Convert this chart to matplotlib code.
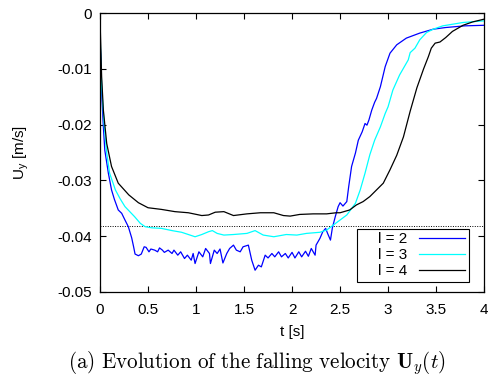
import numpy as np
import matplotlib
matplotlib.use("Agg")
import matplotlib.pyplot as plt

plt.rcParams['font.family'] = ['Liberation Sans', 'DejaVu Sans']
plt.rcParams['font.size'] = 11

# l = 2 (blue)
t2 = [0, 0.01, 0.017, 0.035, 0.05, 0.087, 0.12, 0.15, 0.19, 0.226, 0.26, 0.295, 0.33, 0.35, 0.365,
      0.4, 0.43, 0.46, 0.48, 0.51, 0.53, 0.57, 0.6, 0.62, 0.65, 0.67, 0.71, 0.75, 0.77, 0.81, 0.84,
      0.88, 0.91, 0.95, 0.97, 0.99, 1.03, 1.07, 1.1, 1.14, 1.15, 1.19, 1.22, 1.25, 1.28, 1.32, 1.35,
      1.39, 1.42, 1.46, 1.49, 1.545, 1.58, 1.615, 1.65, 1.68, 1.72, 1.75, 1.79, 1.82, 1.86, 1.89,
      1.93, 1.96, 2.0, 2.03, 2.07, 2.1, 2.14, 2.17, 2.2, 2.24, 2.25, 2.29, 2.32, 2.35, 2.37, 2.4,
      2.42, 2.45, 2.48, 2.5, 2.53, 2.57, 2.59, 2.62, 2.66, 2.69, 2.73, 2.76, 2.78, 2.8, 2.83, 2.86,
      2.88, 2.92, 2.97, 3.02, 3.09, 3.19, 3.33, 3.47, 3.6, 3.8, 4.0]
u2 = [-0.005, -0.0084, -0.0143, -0.0204, -0.0246, -0.0287, -0.0317, -0.0334, -0.0353, -0.0359,
      -0.0371, -0.0383, -0.0403, -0.0419, -0.0432, -0.0435, -0.0432, -0.0419, -0.042, -0.0428,
      -0.0423, -0.0425, -0.0428, -0.0421, -0.0425, -0.0429, -0.0425, -0.0431, -0.0425, -0.0434,
      -0.0428, -0.044, -0.0434, -0.0443, -0.0431, -0.0449, -0.0428, -0.0437, -0.0422, -0.0431,
      -0.0449, -0.0425, -0.0431, -0.0423, -0.0448, -0.0431, -0.0422, -0.0416, -0.0425, -0.0428,
      -0.0419, -0.0416, -0.0443, -0.0461, -0.0452, -0.0455, -0.0434, -0.0439, -0.0431, -0.0437,
      -0.0428, -0.0437, -0.0431, -0.0439, -0.0429, -0.0439, -0.0428, -0.0437, -0.0427, -0.0436,
      -0.0422, -0.0434, -0.0416, -0.0404, -0.0392, -0.0386, -0.0395, -0.0407, -0.0385, -0.0365,
      -0.0347, -0.034, -0.0346, -0.0338, -0.0311, -0.0275, -0.0251, -0.0228, -0.0213, -0.0198,
      -0.0201, -0.0192, -0.0174, -0.016, -0.0153, -0.0132, -0.0096, -0.0072, -0.0057, -0.0045,
      -0.0036, -0.0029, -0.0026, -0.0023, -0.0022]

# l = 3 (cyan)
t3 = [0, 0.017, 0.045, 0.07, 0.1, 0.16, 0.21, 0.26, 0.31, 0.36, 0.42, 0.47, 0.54, 0.64, 0.75,
      0.85, 0.92, 0.99, 1.06, 1.13, 1.17, 1.22, 1.29, 1.39, 1.53, 1.615, 1.7, 1.81, 1.94, 2.05,
      2.15, 2.29, 2.36, 2.43, 2.5, 2.57, 2.66, 2.71, 2.76, 2.81, 2.86, 2.92, 2.97, 3.0, 3.05,
      3.12, 3.21, 3.23, 3.28, 3.33, 3.4, 3.47, 3.57, 3.78, 4.0]
u3 = [-0.003, -0.0132, -0.0204, -0.0251, -0.0287, -0.0317, -0.0333, -0.0347, -0.0356, -0.0365,
      -0.0377, -0.0383, -0.0385, -0.0386, -0.039, -0.0393, -0.0397, -0.0401, -0.0397, -0.0392,
      -0.039, -0.0395, -0.0398, -0.0397, -0.0395, -0.039, -0.0398, -0.0401, -0.0397, -0.0398,
      -0.0395, -0.0393, -0.0389, -0.038, -0.0371, -0.0362, -0.0341, -0.0317, -0.0287, -0.0254,
      -0.0228, -0.0204, -0.018, -0.0168, -0.0138, -0.0111, -0.0084, -0.0071, -0.0063, -0.0048,
      -0.0035, -0.0029, -0.0023, -0.0017, -0.0014]

# l = 4 (black)
t4 = [0, 0.017, 0.035, 0.07, 0.12, 0.19, 0.3, 0.4, 0.5, 0.64, 0.78, 0.92, 1.06, 1.13, 1.2, 1.29,
      1.39, 1.53, 1.67, 1.81, 1.91, 1.98, 2.08, 2.22, 2.36, 2.46, 2.5, 2.6, 2.67, 2.74, 2.81, 2.88,
      2.95, 3.02, 3.09, 3.16, 3.23, 3.3, 3.37, 3.42, 3.45, 3.49, 3.54, 3.6, 3.67, 3.78, 3.88, 4.0]
u4 = [-0.001, -0.0114, -0.0174, -0.0234, -0.0275, -0.0305, -0.0326, -0.034, -0.0349, -0.0352,
      -0.0356, -0.0358, -0.0363, -0.0362, -0.0357, -0.0356, -0.0363, -0.036, -0.0358, -0.0358,
      -0.0363, -0.0364, -0.0361, -0.036, -0.036, -0.0358, -0.0358, -0.0353, -0.0344, -0.0338,
      -0.0329, -0.0317, -0.0305, -0.0281, -0.0255, -0.0222, -0.0176, -0.0134, -0.0100, -0.0078,
      -0.0063, -0.0054, -0.0052, -0.0044, -0.0033, -0.0022, -0.0016, -0.0011]

u_ref = -0.0381

labels = ['l = 2', 'l = 3', 'l = 4']
xticks = [0, 0.5, 1, 1.5, 2, 2.5, 3, 3.5, 4]
xticklabels = ['0', '0.5', '1', '1.5', '2', '2.5', '3', '3.5', '4']
yticks = [0, -0.01, -0.02, -0.03, -0.04, -0.05]
yticklabels = ['0', '-0.01', '-0.02', '-0.03', '-0.04', '-0.05']

fig = plt.figure(figsize=(4.89, 3.85), dpi=100)
ax = fig.add_axes([0.2045, 0.2416, 0.7855, 0.7246])

ax.axhline(u_ref, color='black', lw=0.7, ls=(0, (1, 1.5)))
ax.plot(t2, u2, color='#0000ff', lw=0.9, label='    ' + labels[0])
ax.plot(t3, u3, color='#00ffff', lw=0.9, label='    ' + labels[1])
ax.plot(t4, u4, color='black', lw=0.9, label='    ' + labels[2])

ax.set_xlim(0, 4)
ax.set_ylim(-0.05, 0)
ax.set_xticks(xticks)
ax.set_xticklabels(xticklabels)
ax.set_yticks(yticks)
ax.set_yticklabels(yticklabels)
ax.tick_params(direction='in', top=True, right=True, length=4, width=0.8, pad=6)
ax.tick_params(axis='x', pad=8)
for s in ax.spines.values():
    s.set_linewidth(0.9)

ax.set_xlabel('t [s]', labelpad=6)
ax.set_ylabel(r'U$_\mathregular{y}$ [m/s]', labelpad=19)

leg = ax.legend(loc='lower right', bbox_to_anchor=(0.961, 0.036), borderaxespad=0,
                fancybox=False, edgecolor='black', framealpha=1, markerfirst=False,
                handlelength=3.0, labelspacing=0.12, borderpad=0.25, handletextpad=0.8,
                handleheight=0.6)
leg.get_frame().set_linewidth(0.8)

fig.text(0.526, 0.057, r'$\mathrm{(a)\ Evolution\ of\ the\ falling\ velocity\ }\mathbf{U}_y(t)$',
         ha='center', va='center', fontsize=15.2, math_fontfamily='cm')

fig.savefig('out.png', dpi=100)
